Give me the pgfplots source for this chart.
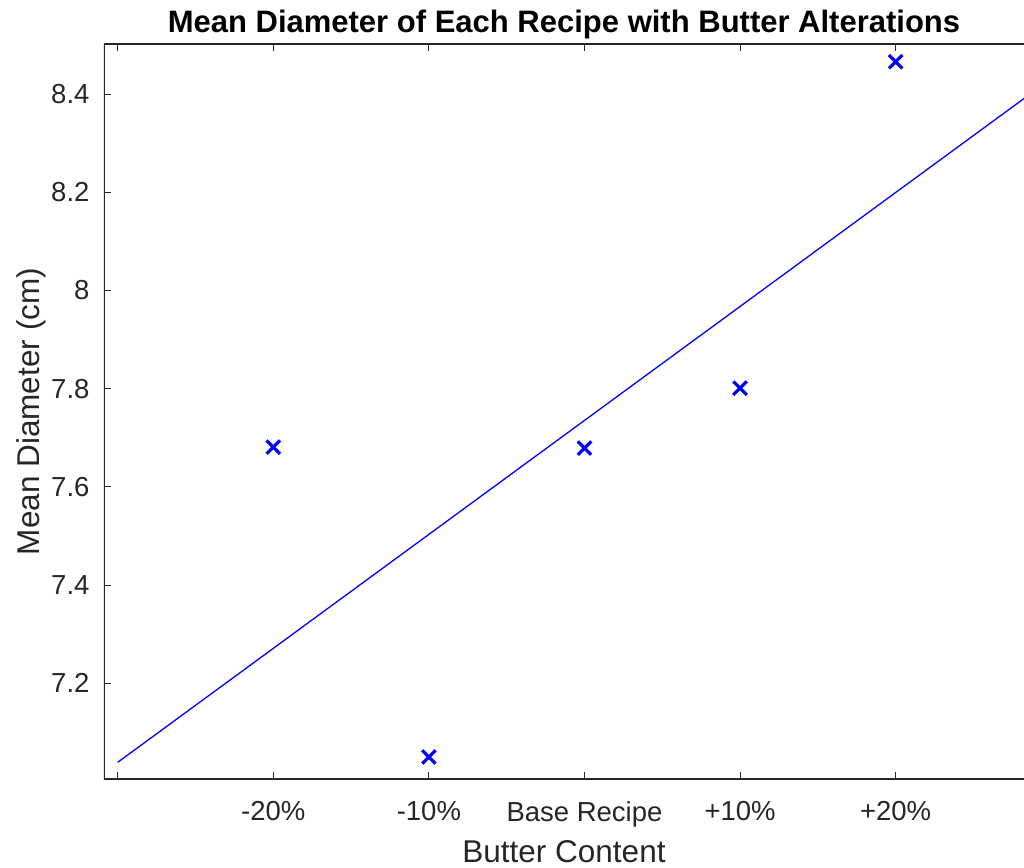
\documentclass[border=0pt]{standalone}
\usepackage{pgfplots}
\pgfplotsset{compat=1.18}
\usepackage{fontspec}
\setmainfont{Liberation Sans}
\definecolor{axgray}{RGB}{38,38,38}
\begin{document}
\begin{tikzpicture}
\begin{axis}[
  name=ax,
  scale only axis,
  width=920pt, height=735pt,
  xmin=-0.088, xmax=5.825,
  ymin=7.005, ymax=8.502,
  xtick={0,1,2,3,4,5},
  xticklabels={{},-20\%,-10\%,Base Recipe,+10\%,+20\%},
  ytick={7.2,7.4,7.6,7.8,8,8.2,8.4},
  yticklabels={7.2,7.4,7.6,7.8,8,8.2,8.4},
  tick align=inside,
  major tick length=7pt,
  xtick pos=both,
  ytick pos=left,
  tick style={axgray, line width=0.9pt},
  axis line style={draw=none},
  /pgf/number format/assume math mode=true,
  ticklabel style={font=\fontsize{27.5}{33}\selectfont, text=axgray},
  xticklabel style={yshift=-19pt},
  yticklabel style={xshift=-11pt},
  xlabel={Butter Content},
  ylabel={Mean Diameter (cm)},
  label style={font=\fontsize{31.5}{37}\selectfont, text=axgray},
  xlabel style={yshift=-6pt},
  ylabel style={yshift=-2pt},
  title={Mean Diameter of Each Recipe with Butter Alterations},
  title style={font=\fontsize{31}{37}\selectfont\bfseries, yshift=-4pt},
  clip=true,
]
\draw[axgray, line width=1.3pt] (rel axis cs:1,1) -- (rel axis cs:0,1) -- (rel axis cs:0,0) -- (rel axis cs:1,0);
\addplot[blue, line width=1.3pt, no marks] coordinates {(0,7.039) (5.825,8.391)};
\addplot[only marks, blue, mark=x, mark size=9.5pt, mark options={line width=3.2pt}] coordinates {
(1,7.681) (2,7.050) (3,7.679) (4,7.801) (5,8.466)};
\end{axis}
\pgfresetboundingbox
\path[use as bounding box] (ax.south west) ++(-104pt,-88pt) rectangle ++(1024pt,867pt);
\end{tikzpicture}
\end{document}
